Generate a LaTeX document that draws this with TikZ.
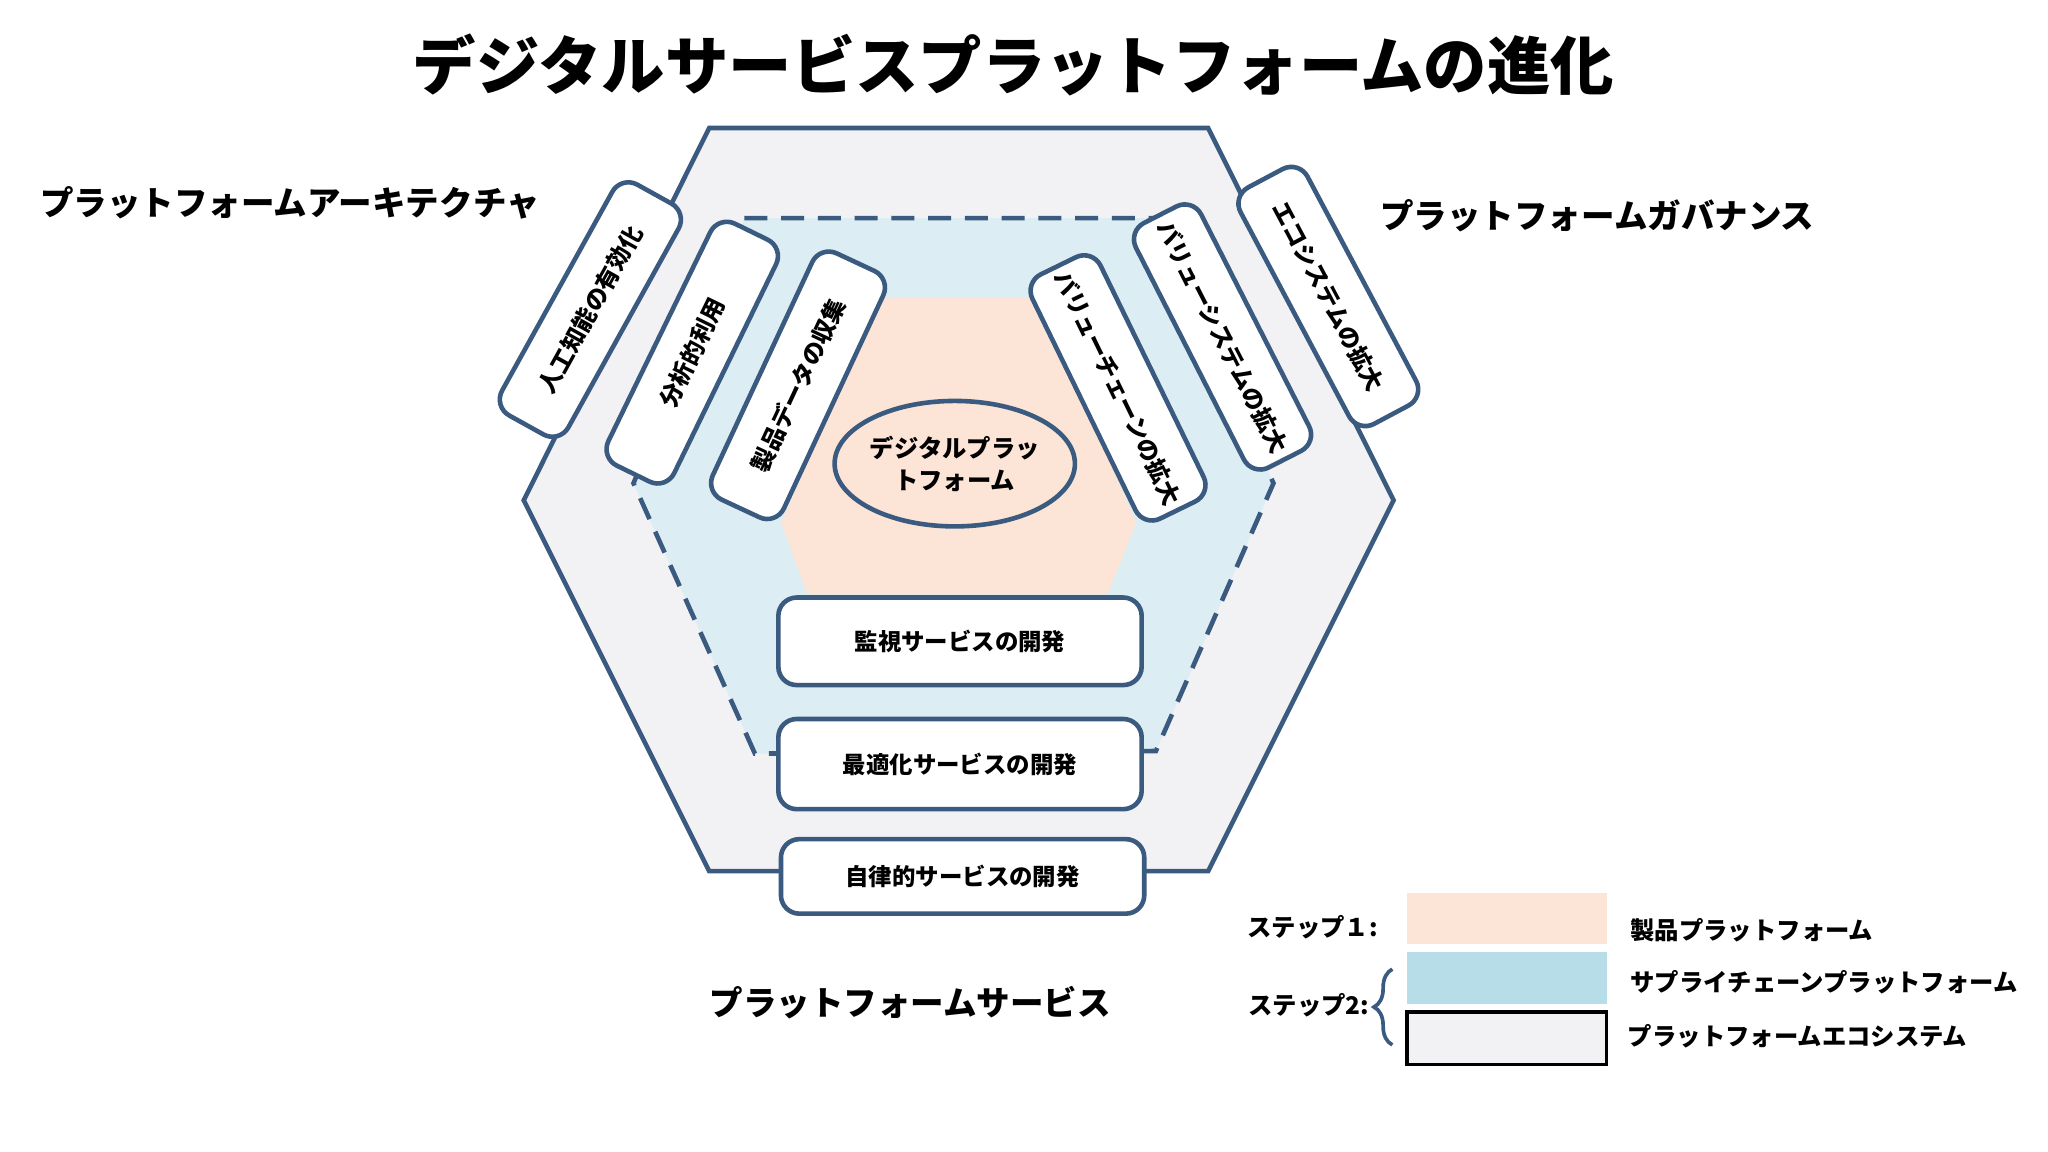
\documentclass[tikz,border=0pt]{standalone}
\usepackage{fontspec}
\setmainfont{Noto Sans CJK JP}
\usetikzlibrary{decorations.pathreplacing,shapes.geometric}
\definecolor{edge}{HTML}{3B5A80}
\definecolor{outerfill}{HTML}{F2F1F4}
\definecolor{midfill}{HTML}{DCEDF3}
\definecolor{innerfill}{HTML}{FCE4D6}
\definecolor{legblue}{HTML}{B7DDE8}
\tikzset{
  card/.style={draw=edge,line width=1pt,fill=white,rounded corners=4pt,align=center,font=\bfseries\fontsize{5.1}{6.5}\selectfont,inner sep=0pt},
  seclabel/.style={font=\bfseries\fontsize{7.3}{9}\selectfont},
  legtext/.style={font=\bfseries\fontsize{5.3}{7}\selectfont,anchor=west}
}
\begin{document}
\begin{tikzpicture}[x=0.01cm,y=-0.01cm]
\useasboundingbox (0,0) rectangle (1568,882);
\fill[white] (0,0) rectangle (1568,882);
% outer hexagon
\draw[edge,line width=1pt,fill=outerfill] (543,98)--(925,98)--(1067,383)--(925,667)--(543,667)--(401,383)--cycle;
% middle dashed
\draw[edge,line width=1pt,dash pattern=on 5pt off 3pt,fill=midfill] (570,167)--(887,167)--(975,370)--(885,575)--(578,577)--(485,370)--cycle;
% inner
\fill[innerfill] (675,228)--(795,228)--(870,400)--(848,455)--(618,455)--(598,400)--cycle;
\node[draw=edge,line width=1pt,fill=innerfill,ellipse,minimum width=1.56cm,minimum height=0.96cm,inner sep=0pt,align=center,font=\bfseries\fontsize{5.3}{7}\selectfont] (core) at (731,355) {デジタルプラッ\\トフォーム};
% left cards
\node[card,rotate=61,minimum width=2.02cm,minimum height=0.58cm] (a1) at (452,237) {人工知能の有効化};
\node[card,rotate=64,minimum width=2.06cm,minimum height=0.56cm] (a2) at (530,270) {分析的利用};
\node[card,rotate=65,minimum width=2.08cm,minimum height=0.6cm] (a3) at (611,295) {製品データの収集};
% right cards
\node[card,rotate=-64,minimum width=2.08cm,minimum height=0.58cm] (g1) at (856,297) {バリューチェーンの拡大};
\node[card,rotate=-63,minimum width=2.1cm,minimum height=0.56cm] (g2) at (936,258) {バリューシステムの拡大};
\node[card,rotate=-62,minimum width=2.05cm,minimum height=0.58cm] (g3) at (1017,227) {エコシステムの拡大};
% bottom cards
\node[card,minimum width=2.78cm,minimum height=0.67cm] (s1) at (735,491) {監視サービスの開発};
\node[card,minimum width=2.78cm,minimum height=0.69cm] (s2) at (735,585) {最適化サービスの開発};
\node[card,minimum width=2.78cm,minimum height=0.57cm] (s3) at (737,671) {自律的サービスの開発};
% labels
\node[font=\bfseries\fontsize{13.8}{16}\selectfont] (title) at (776,50) {デジタルサービスプラットフォームの進化};
\node[seclabel] (l1) at (222,155) {プラットフォームアーキテクチャ};
\node[seclabel] (l2) at (1223,165) {プラットフォームガバナンス};
\node[seclabel] (l3) at (697,768) {プラットフォームサービス};
% legend
\node[font=\bfseries\fontsize{5.3}{7}\selectfont] (st1) at (1005,710) {ステップ１:};
\node[font=\bfseries\fontsize{5.3}{7}\selectfont] (st2) at (1002,770) {ステップ2:};
\fill[innerfill] (1077,684) rectangle (1230,723);
\fill[legblue] (1077,729) rectangle (1230,769);
\draw[black,line width=0.8pt,fill=outerfill] (1077,775) rectangle (1230,815);
\node[legtext] (t1) at (1236,712) {製品プラットフォーム};
\node[legtext] (t2) at (1236,752) {サプライチェーンプラットフォーム};
\node[legtext] (t3) at (1234,793) {プラットフォームエコシステム};
\coordinate (b1) at (1066,742);
\coordinate (b2) at (1066,800);
\draw[edge,line width=0.8pt,decorate,decoration={brace,amplitude=4pt}] (b2)--(b1);
\end{tikzpicture}
\end{document}
